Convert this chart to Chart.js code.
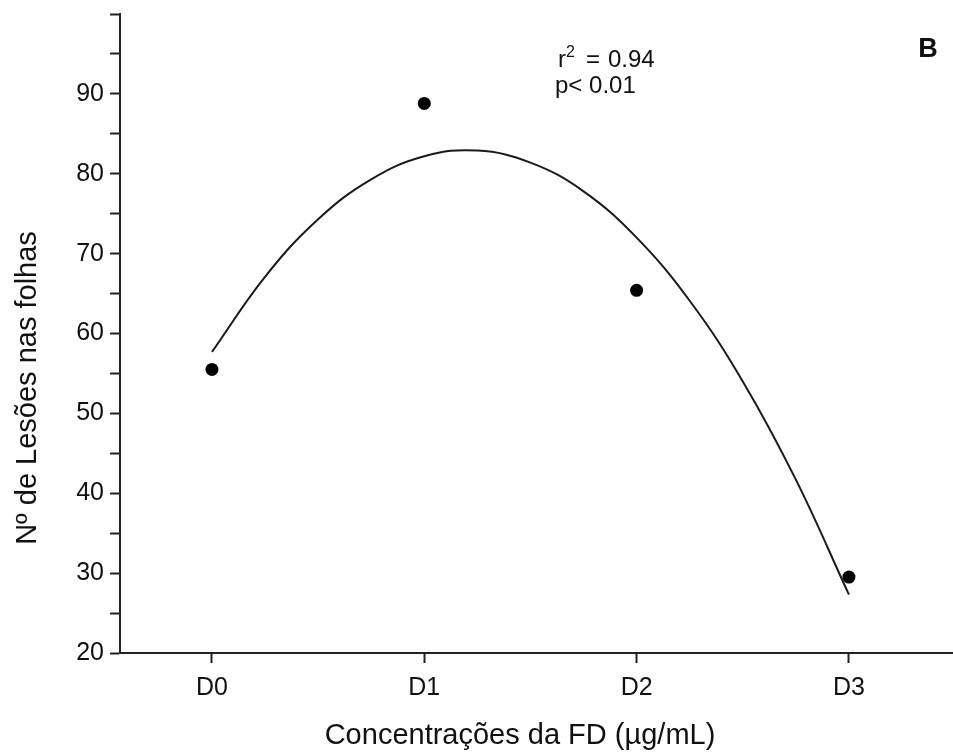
<!DOCTYPE html>
<html>
<head>
<meta charset="utf-8">
<script src="https://cdn.jsdelivr.net/npm/chart.js@4"></script>
<style>
  body { margin: 0; background: #fff; }
  canvas { display: block; }
</style>
</head>
<body>
<canvas id="grafico" width="953" height="753"></canvas>
<script>
// dados
const categorias = ['D0', 'D1', 'D2', 'D3'];
const lesoes = [55.5, 88.8, 65.4, 29.5];

// curva ajustada
const curvaX = [0, 0.25, 0.5, 0.75, 1, 1.25, 1.5, 1.75, 2, 2.25, 2.5, 2.75, 3];
const curvaY = [57.7, 67.1, 74.3, 79.3, 82.2, 82.9, 81.4, 77.8, 72.0, 64.1, 54.0, 41.7, 27.3];

const fonte = '"Liberation Sans", Arial, sans-serif';
const corEixo = '#222';

// textos extras: titulos dos eixos, r2, p e letra B
const textos = {
    id: 'textos',
    afterDraw(chart) {
        const ctx = chart.ctx;
        ctx.save();
        ctx.fillStyle = '#111';
        ctx.textBaseline = 'alphabetic';
        ctx.textAlign = 'left';

        ctx.font = '24px ' + fonte;
        ctx.fillText('r', 558, 67);
        ctx.font = '16px ' + fonte;
        ctx.fillText('2', 566, 57);
        ctx.font = '24px ' + fonte;
        ctx.fillText('=', 586, 67);
        ctx.fillText('0.94', 608, 67);
        ctx.fillText('p< 0.01', 555, 93);

        ctx.font = 'bold 27px ' + fonte;
        ctx.textAlign = 'center';
        ctx.fillText('B', 928, 57);

        ctx.font = '29px ' + fonte;
        ctx.fillText('Concentrações da FD (µg/mL)', 520, 744);

        ctx.translate(36, 388);
        ctx.rotate(-Math.PI / 2);
        ctx.fillText('Nº de Lesões nas folhas', 0, 0);
        ctx.restore();
    }
};

const pontos = lesoes.map((v, i) => ({ x: i, y: v }));
const curva = curvaX.map((x, i) => ({ x: x, y: curvaY[i] }));

new Chart('grafico', {
    type: 'scatter',
    data: {
        datasets: [{
            data: pontos,
            pointRadius: 6.5,
            pointBackgroundColor: '#000',
            pointBorderWidth: 0,
            showLine: false
        }, {
            data: curva,
            showLine: true,
            borderColor: '#1a1a1a',
            borderWidth: 2,
            tension: 0.4,
            pointRadius: 0
        }]
    },
    options: {
        responsive: false,
        animation: false,
        layout: { autoPadding: false, padding: { left: 0, top: 14, right: 0, bottom: 0 } },
        plugins: { legend: { display: false }, tooltip: { enabled: false } },
        scales: {
            x: {
                type: 'linear',
                min: -0.433,
                max: 3.49,
                afterBuildTicks: axis => { axis.ticks = categorias.map((c, i) => ({ value: i })) },
                afterFit: s => { s.height = 100; s.paddingLeft = 0; s.paddingRight = 0 },
                ticks: {
                    autoSkip: false,
                    maxRotation: 0,
                    padding: 10,
                    color: '#111',
                    font: { family: fonte, size: 25 },
                    callback: v => categorias[v]
                },
                grid: { drawOnChartArea: false, tickLength: 10, tickWidth: 2, tickColor: corEixo },
                border: { color: corEixo, width: 2 }
            },
            y: {
                min: 20,
                max: 100,
                afterFit: s => { s.width = 120; s.paddingTop = 0; s.paddingBottom = 0 },
                ticks: {
                    stepSize: 5,
                    autoSkip: false,
                    padding: 6,
                    color: '#111',
                    font: { family: fonte, size: 25 },
                    callback: v => (v % 10 === 0 && v < 100) ? v : ''
                },
                grid: { drawOnChartArea: false, tickLength: 10, tickWidth: 2, tickColor: corEixo },
                border: { color: corEixo, width: 2 }
            }
        }
    },
    plugins: [textos]
});
</script>
</body>
</html>
